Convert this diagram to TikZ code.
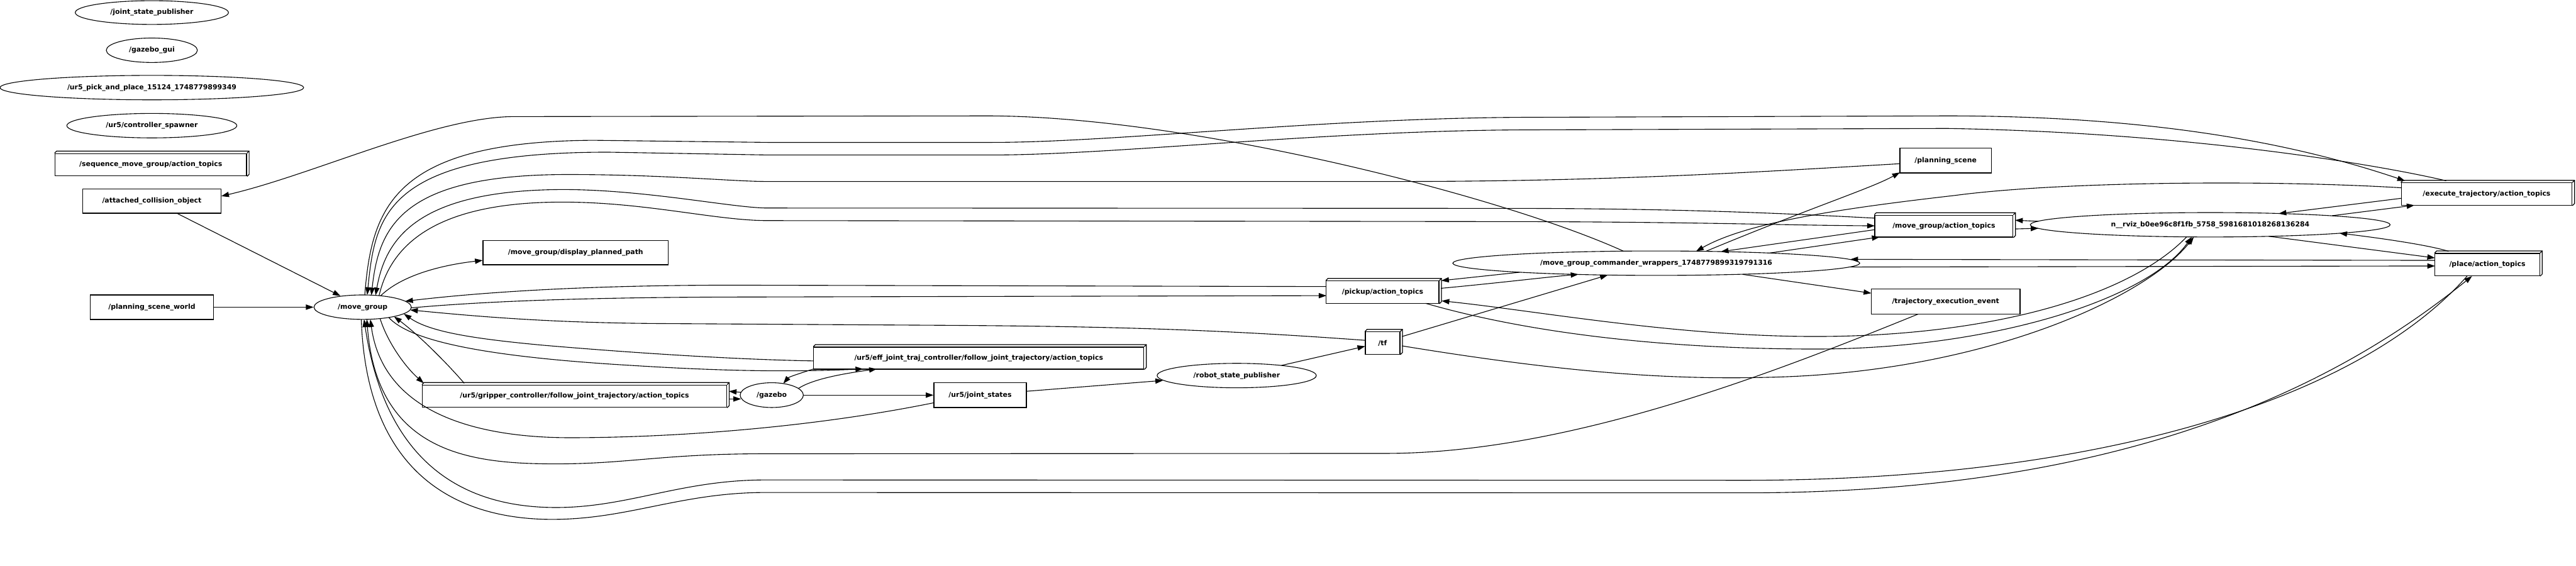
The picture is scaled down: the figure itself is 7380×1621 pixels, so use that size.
\documentclass[tikz,border=0pt]{standalone}
\usepackage{fontspec}
\setmainfont{DejaVu Sans}
\usetikzlibrary{arrows.meta,shapes.geometric,calc}
\newcommand\boxthree[1]{%
  \draw[nodeline] (#1.north west) -- ++(6,-6) -- ($(#1.north east)+(6,-6)$) -- ($(#1.south east)+(6,-6)$) -- (#1.south east);
  \draw[nodeline] (#1.north east) -- ++(6,-6);}
\begin{document}
\begin{tikzpicture}[x=1pt,y=-1pt,
  font=\fontsize{19.6}{23}\selectfont\bfseries,
  nodeline/.style={line width=2.2pt},
  proc/.style={ellipse, draw, line width=2pt, inner sep=0pt},
  topic/.style={rectangle, draw, line width=2.4pt, inner sep=0pt},
  e/.style={line width=2pt, -{Triangle[length=22pt,width=15pt]}}]
\fill[white] (0,0) rectangle (7380,1621);
\useasboundingbox (0,0) rectangle (7380,1621);
% nodes
\node[proc, minimum width=439pt, minimum height=68pt] (jsp) at (435,36) {/joint\_state\_publisher};
\node[proc, minimum width=261pt, minimum height=70pt] (gzgui) at (435,144) {/gazebo\_gui};
\node[proc, minimum width=870pt, minimum height=70pt] (pnp) at (435,251) {/ur5\_pick\_and\_place\_15124\_1748779899349};
\node[proc, minimum width=487pt, minimum height=70pt] (spawn) at (435,360) {/ur5/controller\_spawner};
\node[topic, minimum width=549pt, minimum height=64pt] (seq) at (432,472) {/sequence\_move\_group/action\_topics};
\node[topic, minimum width=397pt, minimum height=70pt] (att) at (435,576) {/attached\_collision\_object};
\node[topic, minimum width=353pt, minimum height=70pt] (psw) at (435,880) {/planning\_scene\_world};
\node[proc, minimum width=279pt, minimum height=70pt] (mg) at (1039,880) {/move\_group};
\node[topic, minimum width=530pt, minimum height=69pt] (disp) at (1649,724) {/move\_group/display\_planned\_path};
\node[topic, minimum width=872pt, minimum height=64pt] (grip) at (1646,1135) {/ur5/gripper\_controller/follow\_joint\_trajectory/action\_topics};
\node[proc, minimum width=181pt, minimum height=71pt] (gz) at (2211,1132) {/gazebo};
\node[topic, minimum width=946pt, minimum height=63pt] (eff) at (2804,1026) {/ur5/eff\_joint\_traj\_controller/follow\_joint\_trajectory/action\_topics};
\node[topic, minimum width=265pt, minimum height=71pt] (js) at (2808,1132) {/ur5/joint\_states};
\node[proc, minimum width=456pt, minimum height=70pt] (rsp) at (3543,1076) {/robot\_state\_publisher};
\node[topic, minimum width=323pt, minimum height=64pt] (pick) at (3961,837) {/pickup/action\_topics};
\node[topic, minimum width=99pt, minimum height=64pt] (tf) at (3961,983) {/tf};
\node[proc, minimum width=1166pt, minimum height=70pt] (cmd) at (4745,754) {/move\_group\_commander\_wrappers\_1748779899319791316};
\node[topic, minimum width=262pt, minimum height=71pt] (ps) at (5574,460) {/planning\_scene};
\node[topic, minimum width=396pt, minimum height=63pt] (mgat) at (5569,648) {/move\_group/action\_topics};
\node[topic, minimum width=426pt, minimum height=72pt] (traj) at (5574,864) {/trajectory\_execution\_event};
\node[proc, minimum width=1031pt, minimum height=70pt] (rviz) at (6332,644) {n\_\_rviz\_b0ee96c8f1fb\_5758\_5981681018268136284};
\node[topic, minimum width=489pt, minimum height=64pt] (exec) at (7124,556) {/execute\_trajectory/action\_topics};
\node[topic, minimum width=300pt, minimum height=64pt] (place) at (7126,758) {/place/action\_topics};
\boxthree{seq}\boxthree{grip}\boxthree{eff}\boxthree{pick}\boxthree{tf}\boxthree{mgat}\boxthree{exec}\boxthree{place}
% edges
% commander -> attached_collision_object
\draw[e] ($(cmd)+(-93,-34)$) .. controls (4300,560) and (3400,332) .. (2827,332) -- (1474,334) .. controls (1250,334) and (900,500) .. ($(att)+(199,-14)$);
\draw[e] ($(att.south)+(74,0)$) -- (mg);
\draw[e] (psw) -- (mg);
\draw[e] ($(mg)+(52,-33)$) .. controls (1150,790) and (1260,760) .. ($(disp.west)+(0,22)$);
% move_group <-> execute_trajectory
\draw[e] ($(mg)+(6,-35)$) .. controls (1065,600) and (1120,405) .. (1700,402) -- (2199,408) -- (2842,408) .. controls (3200,408) and (3800,336) .. (4401,336) -- (5577,332) .. controls (6200,332) and (6600,420) .. ($(exec)+(-234,-38)$);
\draw[e] ($(exec)+(-116,-38)$) .. controls (6850,480) and (6300,380) .. (5577,368) -- (4401,372) .. controls (3800,372) and (3200,444) .. (2842,444) -- (2199,444) -- (1742,436) .. controls (1100,436) and (1075,620) .. ($(mg)+(13,-35)$);
% planning_scene -> move_group
\draw[e] ($(ps)+(-131,9)$) .. controls (5000,495) and (4600,520) .. (3991,520) -- (2199,520) .. controls (2100,520) and (1900,500) .. (1627,500) .. controls (1150,500) and (1085,650) .. ($(mg)+(25,-34)$);
% move_group <-> move_group/action_topics
\draw[e] ($(mgat)+(-198,-23)$) .. controls (5000,605) and (4700,597) .. (4300,597) -- (2199,596) .. controls (2100,596) and (1850,543) .. (1611,543) .. controls (1200,545) and (1105,680) .. ($(mg)+(37,-34)$);
\draw[e] ($(mg)+(47,-33)$) .. controls (1120,700) and (1250,579) .. (1611,579) .. controls (1850,579) and (2050,632) .. (2199,632) -- (4401,635) .. controls (4900,637) and (5100,645) .. ($(mgat)+(-198,-1)$);
% commander connections
\draw[e] ($(cmd)+(142,-34)$) .. controls (5200,590) and (5360,540) .. ($(ps)+(-131,34)$);
\draw[e] ($(exec)+(-244,-18)$) .. controls (6500,515) and (5900,520) .. (5600,560) .. controls (5250,600) and (5000,640) .. ($(cmd)+(114,-34)$);
\draw[e] ($(mgat)+(-198,10)$) -- ($(cmd)+(185,-33)$);
\draw[e] ($(cmd)+(324,-29)$) -- ($(mgat)+(-184,31)$);
\draw[e] ($(rviz)+(-492,-10)$) -- ($(mgat)+(204,-17)$);
\draw[e] ($(mgat)+(204,8)$) -- ($(rviz)+(-492,10)$);
\draw[e] ($(rviz)+(349,-26)$) -- ($(exec)+(-207,32)$);
\draw[e] ($(exec)+(-244,12)$) -- ($(rviz)+(196,-32)$);
\draw[e] ($(rviz)+(168,33)$) -- ($(place)+(-150,-19)$);
\draw[e] ($(place)+(-111,-38)$) .. controls (6950,700) and (6800,680) .. ($(rviz)+(370,24)$);
\draw[e] ($(place)+(-150,-12)$) -- ($(cmd)+(556,-11)$);
\draw[e] ($(cmd)+(556,11)$) -- ($(place)+(-150,4)$);
\draw[e] ($(cmd)+(247,32)$) -- ($(traj)+(-213,-24)$);
\draw[e] ($(cmd)+(-391,26)$) -- ($(pick)+(168,-33)$);
\draw[e] ($(pick)+(167,-11)$) .. controls (4300,810) and (4420,795) .. ($(cmd)+(-223,32)$);
\draw[e] ($(tf)+(56,-19)$) -- ($(cmd)+(-139,34)$);
\draw[e] ($(rsp)+(128,-29)$) -- ($(tf)+(-50,9)$);
\draw[e] ($(js)+(133,-11)$) -- ($(rsp)+(-211,14)$);
% gazebo
\draw[e] (gz) -- (js);
\draw[e] ($(gz)+(-88,-8)$) -- ($(grip)+(442,-14)$);
\draw[e] ($(grip)+(442,8)$) -- ($(gz)+(-88,11)$);
\draw[e] ($(eff)+(-473,31)$) .. controls (2290,1070) and (2260,1080) .. ($(gz)+(33,-33)$);
\draw[e] ($(gz)+(76,-19)$) .. controls (2330,1085) and (2420,1070) .. ($(eff)+(-292,31)$);
% move_group <-> controllers
\draw[e] ($(mg)+(75,30)$) .. controls (1170,970) and (1350,1020) .. (1810,1047) .. controls (2050,1062) and (2250,1067) .. ($(eff)+(-331,31)$);
\draw[e] ($(eff)+(-473,8)$) .. controls (2100,1030) and (1800,1010) .. (1555,989) .. controls (1350,970) and (1230,950) .. ($(mg)+(118,19)$);
\draw[e] ($(grip)+(-316,-37)$) .. controls (1280,1040) and (1200,960) .. ($(mg)+(90,27)$);
\draw[e] ($(mg)+(50,33)$) .. controls (1110,980) and (1160,1050) .. ($(grip)+(-432,-37)$);
% bottom loops into move_group
\draw[e] ($(js)+(-133,22)$) .. controls (2300,1230) and (1900,1254) .. (1633,1254) .. controls (1400,1254) and (1100,1200) .. ($(mg)+(22,35)$);
\draw[e] ($(traj)+(-79,36)$) .. controls (5100,1060) and (4500,1299) .. (3969,1299) -- (2193,1300) .. controls (1900,1300) and (1800,1329) .. (1593,1329) .. controls (1350,1329) and (1080,1300) .. ($(mg)+(12,35)$);
% pickup / tf <-> move_group
\draw[e] ($(pick)+(-161,-16)$) -- (2100,817) .. controls (1700,817) and (1400,835) .. ($(mg)+(122,-17)$);
\draw[e] ($(mg)+(139,2)$) .. controls (1400,862) and (1700,852) .. (2100,851) -- ($(pick)+(-161,10)$);
\draw[e] ($(tf)+(-50,-8)$) .. controls (3500,945) and (3200,935) .. (2700,932) -- (1893,927) .. controls (1600,925) and (1400,910) .. ($(mg)+(136,8)$);
% rviz lower connections
\draw[e] ($(tf)+(56,8)$) .. controls (4500,1070) and (4800,1090) .. (5100,1080) .. controls (5700,1060) and (6150,850) .. ($(rviz)+(-47,35)$);
\draw[e] ($(rviz)+(-68,35)$) .. controls (6100,850) and (5700,964) .. (5200,964) .. controls (4800,964) and (4400,890) .. ($(pick)+(169,25)$);
\draw[e] ($(pick)+(123,32)$) .. controls (4400,960) and (4800,1000) .. (5200,1000) .. controls (5700,1000) and (6150,860) .. ($(rviz)+(-53,35)$);
% place <-> move_group
\draw[e] ($(place)+(-58,33)$) .. controls (6750,1150) and (6000,1376) .. (5000,1376) -- (2193,1375) .. controls (1950,1375) and (1800,1454) .. (1593,1454) .. controls (1300,1454) and (1100,1300) .. ($(mg)+(4,35)$);
\draw[e] ($(mg)+(-4,35)$) .. controls (1050,1350) and (1300,1488) .. (1582,1488) .. controls (1800,1488) and (1950,1411) .. (2193,1411) -- (5000,1412) .. controls (6100,1412) and (6700,1100) .. ($(place)+(-44,33)$);
\end{tikzpicture}
\end{document}
